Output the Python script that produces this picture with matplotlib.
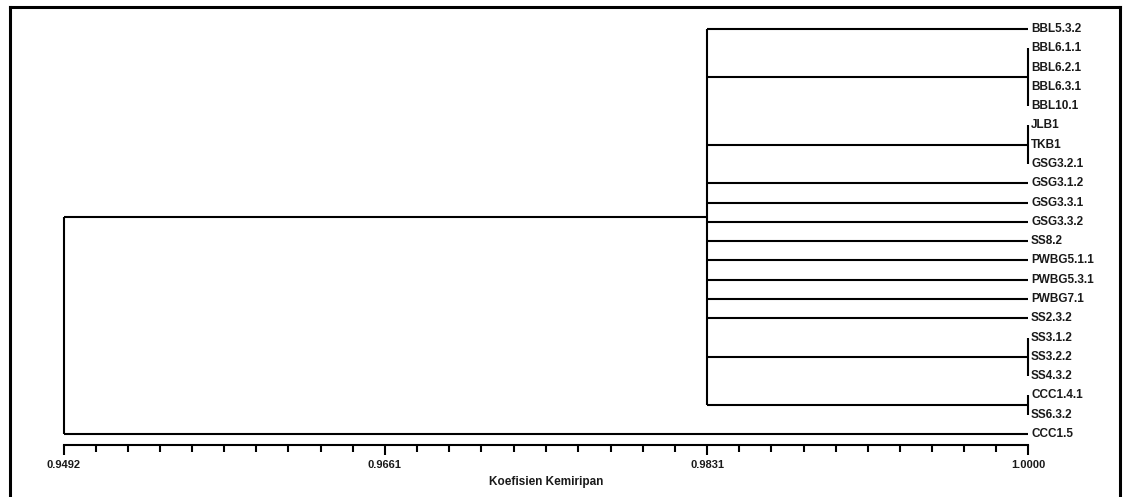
import numpy as np
import matplotlib
matplotlib.use("Agg")
import matplotlib.pyplot as plt
from matplotlib.lines import Line2D
from matplotlib import transforms

# ---- data ----
leaf_labels = ["BBL5.3.2", "BBL6.1.1", "BBL6.2.1", "BBL6.3.1", "BBL10.1",
               "JLB1", "TKB1", "GSG3.2.1", "GSG3.1.2", "GSG3.3.1", "GSG3.3.2",
               "SS8.2", "PWBG5.1.1", "PWBG5.3.1", "PWBG7.1", "SS2.3.2",
               "SS3.1.2", "SS3.2.2", "SS4.3.2", "CCC1.4.1", "SS6.3.2", "CCC1.5"]
# groups of identical leaves (similarity 1.0000) inside the main cluster
subcluster_sizes = [1, 4, 3, 1, 1, 1, 1, 1, 1, 1, 1, 3, 2]
leaf_similarity = 1.0000
inner_join = 0.9831      # main cluster joins here
root_join = 0.9492       # outgroup CCC1.5 joins here
major_ticks = [0.9492, 0.9661, 0.9831, 1.0000]
minor_per_major = 10
xlabel = "Koefisien Kemiripan"

# ---- figure ----
W, H = 1124, 497
fig = plt.figure(figsize=(W / 100, H / 100), dpi=100)
fam = ["Liberation Sans Narrow", "Liberation Sans", "DejaVu Sans"]
plt.rcParams["font.family"] = fam

top_px, bot_px = 29, 434
left_px, right_px = 64, 1028
ax = fig.add_axes([left_px / W, 1 - bot_px / H, (right_px - left_px) / W, (bot_px - top_px) / H])
n = len(leaf_labels)
ax.set_xlim(root_join, leaf_similarity)
ax.set_ylim(n - 1, 0)

lw = 1.5
kw = dict(color="black", lw=lw, solid_capstyle="butt", clip_on=False)

centers = []
i = 0
for s in subcluster_sizes:
    ys = list(range(i, i + s))
    c = (ys[0] + ys[-1]) / 2
    if s > 1:
        ax.plot([leaf_similarity, leaf_similarity], [ys[0], ys[-1]], **kw)
    ax.plot([inner_join, leaf_similarity], [c, c], **kw)
    centers.append(c)
    i += s

ax.plot([inner_join, inner_join], [centers[0], centers[-1]], **kw)
mid = (centers[0] + centers[-1]) / 2
out_y = n - 1
ax.plot([root_join, inner_join], [mid, mid], **kw)
ax.plot([root_join, leaf_similarity], [out_y, out_y], **kw)
ax.plot([root_join, root_join], [mid, out_y], **kw)

# leaf labels
tr = transforms.offset_copy(ax.transData, fig=fig, x=3, y=0, units="dots")
for k, lab in enumerate(leaf_labels):
    ax.text(leaf_similarity, k, lab, transform=tr, ha="left", va="center",
            fontsize=8.5, fontweight="bold", family=fam, color="#1a1a1a")

# axis
for sp in ["top", "right", "left"]:
    ax.spines[sp].set_visible(False)
ax.spines["bottom"].set_position(("outward", 11 * 0.72))
ax.spines["bottom"].set_linewidth(1.5)
ax.set_yticks([])
ax.set_xticks(major_ticks)
ax.set_xticklabels([f"{v:.4f}" for v in major_ticks], fontsize=8,
                   fontweight="bold", family=fam, color="#1a1a1a")
minors = []
for a, b in zip(major_ticks[:-1], major_ticks[1:]):
    minors.extend(np.linspace(a, b, minor_per_major + 1)[1:-1])
ax.set_xticks(minors, minor=True)
ax.tick_params(axis="x", which="major", direction="out", length=7.5, width=1.5, pad=3.5)
ax.tick_params(axis="x", which="minor", direction="out", length=5, width=1.5)
ax.patch.set_visible(False)

fig.text((left_px + right_px) / 2 / W, 1 - 482 / H, xlabel, ha="center", va="center",
         fontsize=8.5, fontweight="bold", family=fam, color="#1a1a1a")

# outer frame (open at bottom)
flw = 2.2
fx0, fx1, fy0 = 9.5 / W, 1119.5 / W, 1 - 6.5 / H
fig.add_artist(Line2D([fx0, fx0], [0, fy0], color="black", lw=flw, transform=fig.transFigure))
fig.add_artist(Line2D([fx1, fx1], [0, fy0], color="black", lw=flw, transform=fig.transFigure))
fig.add_artist(Line2D([fx0, fx1], [fy0, fy0], color="black", lw=flw, transform=fig.transFigure,
                      solid_capstyle="projecting"))

fig.savefig("out.png", dpi=100, facecolor="white")
